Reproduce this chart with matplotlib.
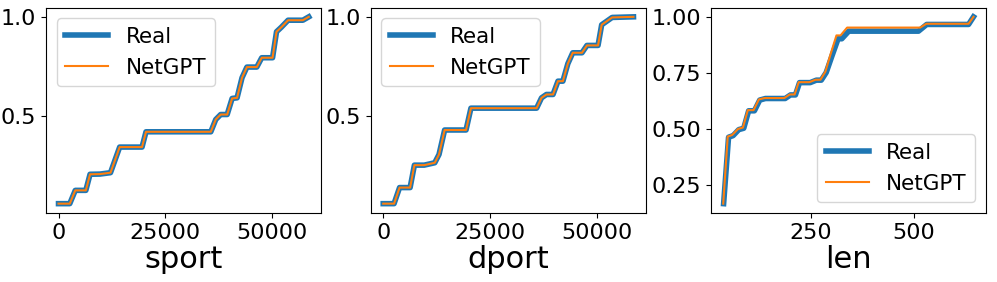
import matplotlib
matplotlib.use("Agg")

import matplotlib.pyplot as plt

# sport: CDF readings (Real / NetGPT overlap almost exactly)
sport_x = [0, 2640, 3935, 6410, 7400, 9720, 12200, 14350, 19600, 20530, 35740,
           36900, 38060, 39580, 40740, 41900, 43060, 44210, 46530, 47690, 50230,
           51160, 52300, 53870, 57340, 58730]
sport_real = [0.059, 0.059, 0.126, 0.126, 0.207, 0.208, 0.215, 0.344, 0.344, 0.421, 0.421,
              0.483, 0.508, 0.508, 0.589, 0.592, 0.693, 0.747, 0.747, 0.794, 0.794,
              0.925, 0.948, 0.983, 0.983, 1.0]
sport_gpt = [0.059, 0.059, 0.126, 0.126, 0.207, 0.208, 0.215, 0.344, 0.344, 0.421, 0.421,
             0.483, 0.508, 0.508, 0.589, 0.592, 0.693, 0.747, 0.747, 0.794, 0.794,
             0.925, 0.948, 0.983, 0.983, 1.0]

# dport
dport_x = [0, 2540, 3830, 6300, 7300, 9600, 12070, 13070, 14380, 19390, 20540, 35920,
           37070, 38220, 39760, 40920, 42070, 43230, 44380, 46540, 47700, 50300,
           51150, 53600, 58600]
dport_real = [0.059, 0.059, 0.140, 0.140, 0.253, 0.253, 0.265, 0.307, 0.430, 0.430, 0.540, 0.540,
              0.592, 0.609, 0.609, 0.676, 0.676, 0.764, 0.819, 0.819, 0.856, 0.856,
              0.960, 0.997, 1.0]
dport_gpt = [0.059, 0.059, 0.140, 0.140, 0.253, 0.253, 0.265, 0.307, 0.430, 0.430, 0.540, 0.540,
             0.592, 0.609, 0.609, 0.676, 0.676, 0.764, 0.819, 0.819, 0.856, 0.856,
             0.960, 0.997, 1.0]

# len
len_real_x = [37, 49, 60, 74, 86, 98, 112, 125, 139, 187, 200, 212, 222, 248, 263, 275,
              287, 301, 316, 325, 342, 512, 532, 634, 646]
len_real = [0.165, 0.462, 0.469, 0.496, 0.502, 0.580, 0.580, 0.628, 0.635, 0.635, 0.651,
            0.651, 0.706, 0.706, 0.717, 0.717, 0.751, 0.825, 0.902, 0.902, 0.936, 0.936,
            0.966, 0.966, 1.0]
len_gpt_x = [36, 47, 58, 72, 84, 96, 110, 123, 137, 185, 198, 210, 220, 246, 261, 273,
             285, 298, 312, 322, 338, 516, 531, 634, 646]
len_gpt = [0.165, 0.465, 0.472, 0.499, 0.505, 0.583, 0.583, 0.631, 0.637, 0.637, 0.653,
           0.653, 0.708, 0.708, 0.719, 0.719, 0.755, 0.835, 0.917, 0.917, 0.952, 0.952,
           0.969, 0.969, 1.0]

panels = [
    ("sport", sport_x, sport_real, sport_x, sport_gpt, [0, 25000, 50000], [0.5, 1.0], "upper left"),
    ("dport", dport_x, dport_real, dport_x, dport_gpt, [0, 25000, 50000], [0.5, 1.0], "upper left"),
    ("len", len_real_x, len_real, len_gpt_x, len_gpt, [250, 500], [0.25, 0.5, 0.75, 1.0], "lower right"),
]

W, H = 997, 282
fig = plt.figure(figsize=(W / 100, H / 100), dpi=100)
lefts = [46, 370.7, 710.7]
width = 275.3
top, bottom = 7.5, 213

for left, (name, xr, yr, xg, yg, xt, yt, loc) in zip(lefts, panels):
    ax = fig.add_axes([left / W, (H - bottom) / H, width / W, (bottom - top) / H])
    ax.plot(xr, yr, color="tab:blue", lw=4, label="Real")
    ax.plot(xg, yg, color="tab:orange", lw=1.5, label="NetGPT")
    ax.set_xticks(xt)
    ax.set_yticks(yt)
    ax.tick_params(labelsize=16)
    ax.set_xlabel(name, fontsize=22, labelpad=2)
    ax.legend(loc=loc, fontsize=15.5)

fig.savefig("out.png", dpi=100)
